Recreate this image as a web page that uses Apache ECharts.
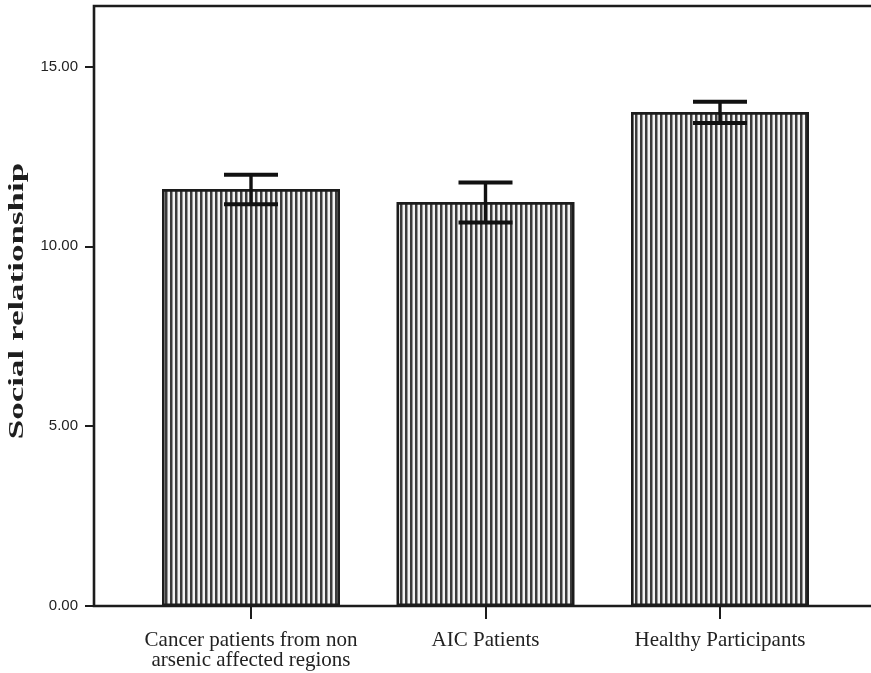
<!DOCTYPE html>
<html>
<head>
<meta charset="utf-8">
<title>Social relationship by group</title>
<script src="https://cdn.jsdelivr.net/npm/echarts@6/dist/echarts.min.js"></script>
<style>
  html, body { margin: 0; padding: 0; background: #ffffff; }
  #chart { width: 871px; height: 673px; }
</style>
</head>
<body>
<div id="chart"></div>
<script>
// Group names shown under the bars
const categories = [
  'Cancer patients from non\narsenic affected regions',
  'AIC Patients',
  'Healthy Participants'
];
// Mean social relationship score per group
const means = [11.59, 11.23, 13.73];
// Error bar limits per group
const errLow = [11.17, 10.66, 13.43];
const errHigh = [11.99, 11.77, 14.02];
// Y axis tick values
const yTicks = [0, 5, 10, 15];
const yMax = 16.68;

// Vertical stripe fill for the bars
function stripePattern() {
  const c = document.createElement('canvas');
  c.width = 5;
  c.height = 10;
  const g = c.getContext('2d');
  g.fillStyle = '#f4f4f4';
  g.fillRect(0, 0, 5, 10);
  g.fillStyle = '#3c3c3c';
  g.fillRect(0, 0, 2, 10);
  g.fillStyle = '#9a9a9a';
  g.fillRect(2, 0, 1, 10);
  return c;
}

const ink = '#1c1c1c';
const chart = echarts.init(document.getElementById('chart'), null, { renderer: 'canvas' });

const errData = categories.map((_, i) => [i, errLow[i], errHigh[i]]);

chart.setOption({
  backgroundColor: '#ffffff',
  animation: false,
  grid: [
    // outer frame carrying the value axis (right edge runs past the canvas)
    { left: 94, top: 6, width: 784, height: 600, show: true, outerBoundsMode: 'none',
      borderColor: ink, borderWidth: 2.6, backgroundColor: '#ffffff' },
    // inner area holding the category bands
    { left: 133.75, top: 6, width: 703.5, height: 600, outerBoundsMode: 'none' }
  ],
  xAxis: [
    { type: 'value', gridIndex: 0, show: false, min: 0, max: 1 },
    {
      type: 'category', gridIndex: 1, data: categories,
      axisLine: { show: false },
      axisTick: { show: true, alignWithLabel: true, length: 13,
        lineStyle: { color: ink, width: 2 } },
      axisLabel: { interval: 0, margin: 24, color: '#222222',
        fontFamily: '"Liberation Serif", "DejaVu Serif", serif',
        fontSize: 21, lineHeight: 20 }
    }
  ],
  yAxis: [
    {
      type: 'value', gridIndex: 0, min: 0, max: yMax,
      axisLine: { show: false },
      splitLine: { show: false },
      axisTick: { show: true, length: 9, customValues: yTicks,
        lineStyle: { color: ink, width: 2 } },
      axisLabel: { customValues: yTicks, margin: 16, color: '#222222',
        fontFamily: '"Liberation Sans", Arial, sans-serif', fontSize: 15,
        formatter: v => Number(v).toFixed(2) }
    },
    { type: 'value', gridIndex: 1, min: 0, max: yMax, show: false }
  ],
  graphic: [
    {
      type: 'text', x: 17, y: 301, rotation: Math.PI / 2, scaleX: 1.59,
      style: {
        text: 'Social relationship',
        font: 'bold 22px "Liberation Serif", "DejaVu Serif", serif',
        fill: '#1e1e1e', align: 'center', verticalAlign: 'middle'
      }
    }
  ],
  series: [
    {
      type: 'bar', xAxisIndex: 1, yAxisIndex: 1, data: means,
      barWidth: 178, z: 2,
      itemStyle: { color: { image: stripePattern(), repeat: 'repeat' },
        borderColor: ink, borderWidth: 2.6 }
    },
    {
      type: 'custom', xAxisIndex: 1, yAxisIndex: 1, data: errData, z: 5,
      renderItem: function (params, api) {
        const lo = api.coord([api.value(0), api.value(1)]);
        const hi = api.coord([api.value(0), api.value(2)]);
        const half = 27;
        const stem = { stroke: '#111111', lineWidth: 3.4 };
        const cap = { stroke: '#111111', lineWidth: 4 };
        return {
          type: 'group',
          children: [
            { type: 'line', shape: { x1: lo[0], y1: lo[1], x2: hi[0], y2: hi[1] }, style: stem },
            { type: 'line', shape: { x1: hi[0] - half, y1: hi[1], x2: hi[0] + half, y2: hi[1] }, style: cap },
            { type: 'line', shape: { x1: lo[0] - half, y1: lo[1], x2: lo[0] + half, y2: lo[1] }, style: cap }
          ]
        };
      }
    }
  ]
});
</script>
</body>
</html>
